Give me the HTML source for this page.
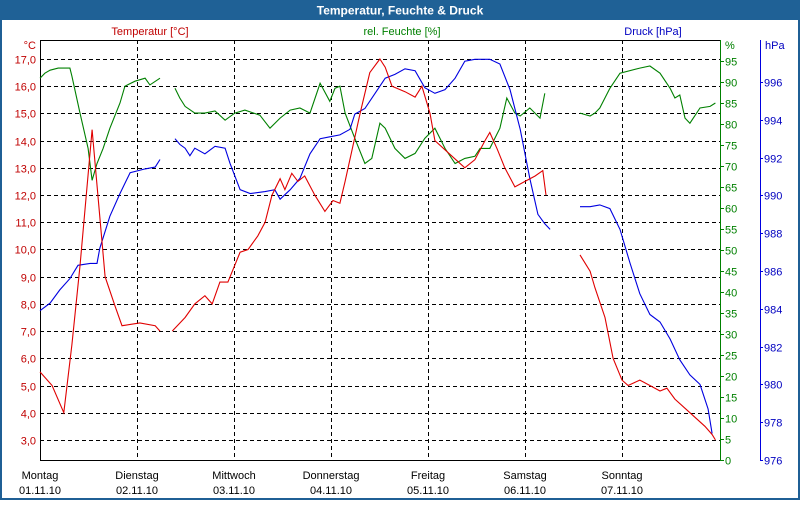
<!DOCTYPE html>
<html><head><meta charset="utf-8"><style>
body{margin:0;background:#fff;}
svg text{font-family:"Liberation Sans",sans-serif;font-size:11px;}
</style></head><body>
<svg id="chart" width="800" height="500" xmlns="http://www.w3.org/2000/svg">
<rect x="0" y="0" width="800" height="500" fill="#fff" stroke="#1f5f95" stroke-width="4"/>
<rect x="0" y="0" width="800" height="20" fill="#1f6196"/>
<text x="400" y="14.5" text-anchor="middle" fill="#fff" font-weight="bold" style="font-size:12px">Temperatur, Feuchte &amp; Druck</text>
<text x="150" y="35" text-anchor="middle" fill="#c00000">Temperatur [°C]</text>
<text x="402" y="35" text-anchor="middle" fill="#008000">rel. Feuchte [%]</text>
<text x="653" y="35" text-anchor="middle" fill="#0000c0">Druck [hPa]</text>
<text x="36" y="49" text-anchor="end" fill="#c00000">°C</text>
<text x="725" y="49" fill="#008000">%</text>
<text x="765" y="49" fill="#0000c0">hPa</text>
<g id="grid"></g>
<g id="axes"></g>
<g id="series"></g>
</svg>
<script>
const dayNames = ["Montag","Dienstag","Mittwoch","Donnerstag","Freitag","Samstag","Sonntag"];
const dayDates = ["01.11.10","02.11.10","03.11.10","04.11.10","05.11.10","06.11.10","07.11.10"];
const tempTicks = [3,4,5,6,7,8,9,10,11,12,13,14,15,16,17];
const humTicks = [0,5,10,15,20,25,30,35,40,45,50,55,60,65,70,75,80,85,90,95];
const presTicks = [976,978,980,982,984,986,988,990,992,994,996];

const tempHours = [0,3,5.9,7.9,9.9,12.9,16.1,18.6,20.3,24.7,28.5,29.7,null,32.7,35.9,38.3,40.8,42.6,44.5,46.5,49.5,51.5,53.9,55.7,57.4,59.4,60.6,62.3,63.8,65.5,68,70.5,72.5,74.2,75.5,79.2,81.6,84.1,85.4,87.1,90.3,92.8,94.5,96.5,97.7,101.4,105.1,107.6,110.1,111.3,113.1,115,117.5,120,122.5,124.4,125.2,null,133.6,136.1,137.3,139.8,141.8,144,145.5,148.4,150.9,153.4,155.1,157.1,160.8,164.5,166.3,167.1];
const tempValues = [5.5,5.0,4.0,6.5,9.4,14.4,9.0,7.9,7.2,7.3,7.2,7.0,null,7.0,7.5,8.0,8.3,8.0,8.8,8.8,9.9,10.0,10.5,11.0,12.0,12.6,12.2,12.8,12.5,12.7,12.0,11.4,11.8,11.7,12.5,15.0,16.5,17.0,16.7,16.0,15.8,15.6,16.0,15.0,14.0,13.5,13.0,13.3,14.0,14.3,13.7,13.0,12.3,12.5,12.7,12.9,12.0,null,9.8,9.2,8.6,7.5,6.0,5.2,5.0,5.2,5.0,4.8,4.9,4.5,4.0,3.5,3.2,3.0];

const humHours = [0,1.2,2.5,4.5,7.4,7.9,9.9,11.9,12.9,14.1,15.6,17.3,19.8,21,23.5,26,27.2,29.7,null,33.4,34.6,35.9,38.3,40.8,43.3,45.8,48.2,50.7,54.4,56.9,59.4,61.9,64.3,66.8,69.3,71.7,73,74.2,75.5,77.9,80.4,82.1,84.1,85.4,87.8,90.3,92.8,95.2,97.7,100.2,102.7,105.1,107.6,108.9,111.3,113.8,115.5,117.5,118.8,121.2,123.7,124.9,null,133.6,136.1,137.3,138.5,141,143.5,148.4,150.9,153.4,155.9,157.1,158.3,159.6,160.8,163.3,165.8,167.1];
const humValues = [90.9,92.1,92.8,93.3,93.3,91.4,82.6,74.2,66.6,70.6,74.2,79,85,89,90.2,90.9,89.3,90.9,null,88.5,86.2,84.2,82.6,82.6,83.1,80.9,82.6,83.3,82.1,79,81.4,83.3,83.8,82.6,89.7,85.4,88.5,89,82.6,76.6,70.6,71.8,80.2,79,74.2,71.8,73,76.6,79,74.2,70.6,71.8,72.3,74.2,74.2,79,86.2,82.6,81.9,83.8,81.4,87.3,null,82.6,81.9,82.6,83.8,88.5,92.1,93.3,93.8,92.1,88.5,86.2,86.9,81.4,80.2,83.8,84.2,85.0];

const presHours = [0,2.5,4.9,7.4,9.4,12.4,14.1,14.8,17.3,19.8,22.3,26,28.5,29.7,null,33.4,34.6,35.9,37.1,38.3,40.8,43.3,45.8,47,49.5,52,55.7,58.1,59.4,61.9,64.3,66.8,69.3,71.7,74.2,76.7,77.9,80.4,82.9,85.4,87.8,90.3,92.8,95.2,97.7,100.2,102.7,105.1,107.6,111.3,113.8,116.3,118.8,121.2,123.2,124.9,126.2,null,133.6,136.1,138.5,141,143.5,146,148.4,150.9,153.4,155.9,158.3,160.8,163.3,165.3,166.3];
const presValues = [983.9,984.3,985.0,985.6,986.3,986.4,986.4,987.2,988.9,990.1,991.2,991.4,991.5,991.9,null,993.0,992.7,992.5,992.1,992.5,992.2,992.6,992.5,991.7,990.3,990.1,990.2,990.3,989.8,990.3,990.9,992.2,993.0,993.1,993.2,993.5,994.3,994.6,995.4,996.2,996.4,996.7,996.6,995.7,995.4,995.6,996.2,997.1,997.2,997.2,996.95,995.6,993.5,990.9,989.0,988.5,988.2,null,989.4,989.4,989.5,989.3,988.2,986.4,984.8,983.7,983.3,982.4,981.3,980.5,980.0,978.7,977.4];

const NS = "http://www.w3.org/2000/svg";
const X0 = 40, DAYW = 97, TOP = 40, BOT = 460, RIGHT = 720;
function xH(h){ return X0 + h/24*DAYW; }
function yT(t){ return 59 + (17 - t)*27.21; }
function yHum(v){ return 460 - v*4.2; }
function yP(p){ return 460 - (p - 976)*18.9; }
function mk(tag, attrs, parent){ const e=document.createElementNS(NS,tag); for(const k in attrs) e.setAttribute(k,attrs[k]); parent.appendChild(e); return e; }

const grid = document.getElementById('grid');
const axes = document.getElementById('axes');
const series = document.getElementById('series');

tempTicks.forEach(t=>{
  const y = Math.round(yT(t))+0.5;
  const g = mk('line',{x1:X0,x2:RIGHT,y1:y,y2:y,stroke:'#000','stroke-dasharray':'4,3','stroke-width':1},grid);
  
  
  const tx = mk('text',{x:36,y:y+4,'text-anchor':'end',fill:'#c00000'},axes);
  tx.textContent = t.toFixed(1).replace('.',',');
  
  
});
for(let d=1; d<7; d++){
  const x = Math.round(X0 + d*DAYW)+0.5;
  const g = mk('line',{x1:x,x2:x,y1:TOP,y2:BOT,stroke:'#000','stroke-dasharray':'4,3','stroke-width':1},grid);
  
  
}
dayNames.forEach((n,i)=>{
  const x = X0 + i*DAYW;
  const t1 = mk('text',{x:x,y:479,'text-anchor':'middle',fill:'#000'},axes);
  t1.textContent = n;
  
  
  const t2 = mk('text',{x:x,y:494,'text-anchor':'middle',fill:'#000'},axes);
  t2.textContent = dayDates[i];
  
  
});
let a;
a = mk('path',{d:`M${X0+0.5},${TOP} V${BOT+0.5} H${RIGHT} M${X0},${TOP+0.5} H${RIGHT}`,stroke:'#000',fill:'none','stroke-width':1},axes);


a = mk('line',{x1:RIGHT+0.5,x2:RIGHT+0.5,y1:TOP,y2:BOT+1,stroke:'#008000','stroke-width':1},axes);


humTicks.forEach(v=>{
  const y = Math.round(yHum(v))+0.5;
  const tk = mk('line',{x1:RIGHT,x2:RIGHT+4,y1:y,y2:y,stroke:'#008000'},axes);
  
  
  const tx = mk('text',{x:RIGHT+5,y:y+4,fill:'#008000'},axes);
  tx.textContent = v;
  
  
});
a = mk('line',{x1:760.5,x2:760.5,y1:TOP,y2:BOT+1,stroke:'#0000e0','stroke-width':1},axes);


presTicks.forEach(v=>{
  const y = Math.round(yP(v))+0.5;
  const tk = mk('line',{x1:760,x2:763,y1:y,y2:y,stroke:'#0000e0'},axes);
  
  
  const tx = mk('text',{x:764,y:y+4,fill:'#0000c0'},axes);
  tx.textContent = v;
  
  
});
function line(hours, vals, yf, color, name){
  let d='', pen=false;
  for(let i=0;i<hours.length;i++){
    if(hours[i]===null || vals[i]===null){ pen=false; continue; }
    d += (pen?'L':'M') + xH(hours[i]).toFixed(1)+','+yf(vals[i]).toFixed(1)+' ';
    pen=true;
  }
  const p = mk('path',{d:d,fill:'none',stroke:color,'stroke-width':1.1},series);
  
  
}
line(humHours, humValues, yHum, '#008000', 'humidity-line');
line(presHours, presValues, yP, '#0000e0', 'pressure-line');
line(tempHours, tempValues, yT, '#e00000', 'temperature-line');
</script>
</body></html>
